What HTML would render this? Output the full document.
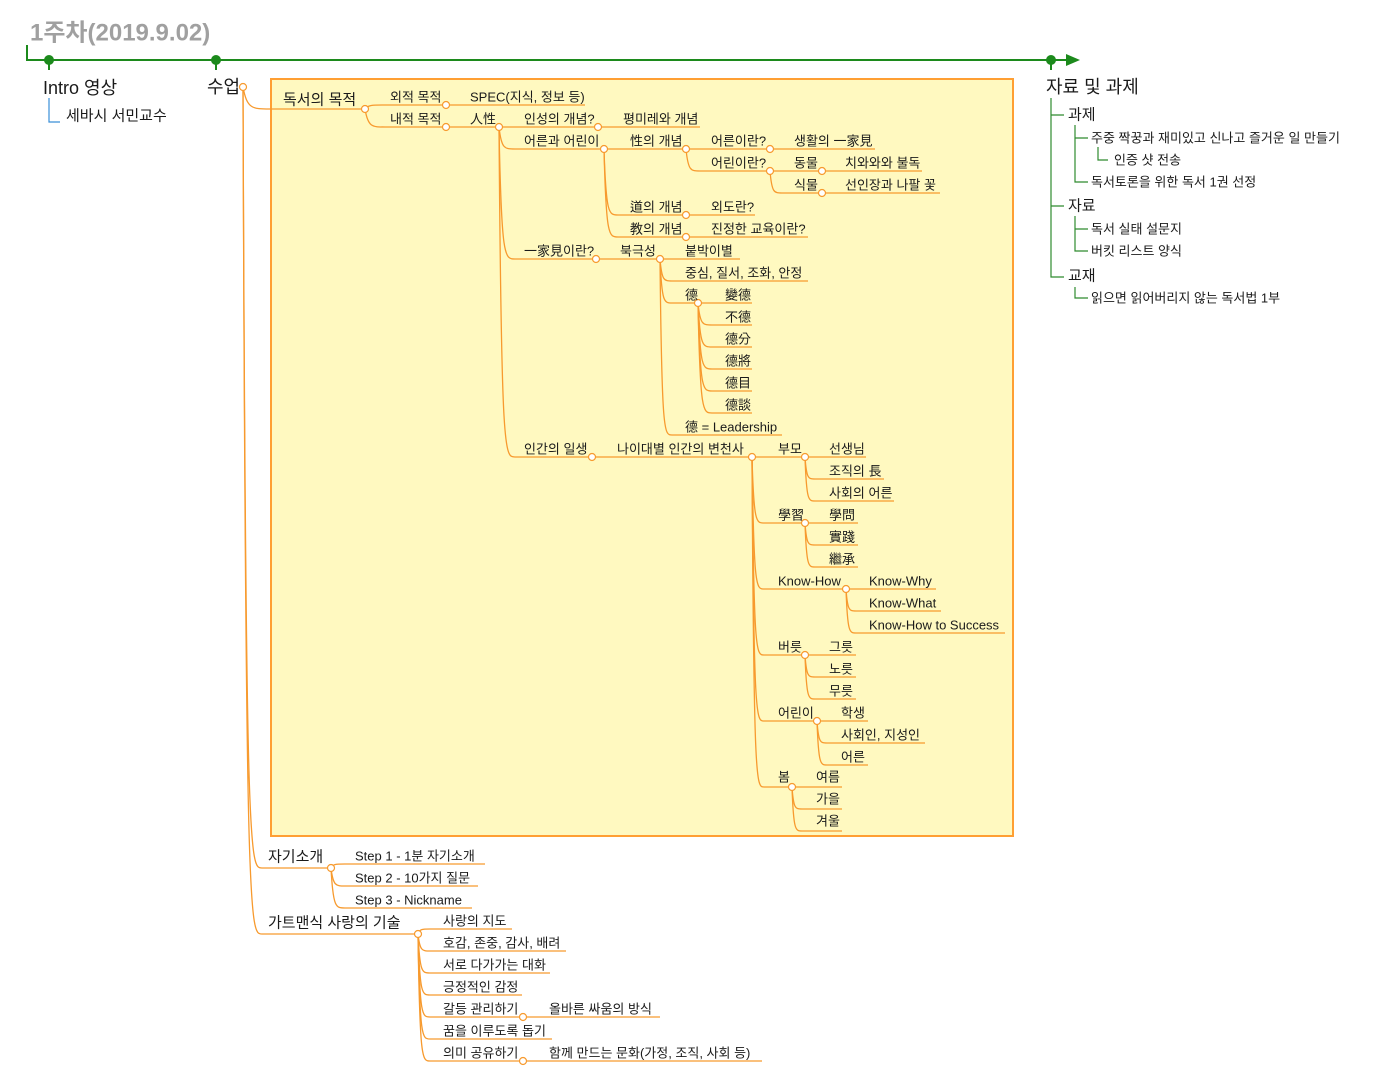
<!DOCTYPE html>
<html><head><meta charset="utf-8"><style>
html,body{margin:0;padding:0;background:#fff;}
svg{display:block;}
text{font-family:"Liberation Sans","Noto Sans CJK KR",sans-serif;font-size:13px;fill:#1a1a1a;dominant-baseline:central;}
.m{font-size:15px;}
.l{font-size:18px;}
.t{font-size:24px;font-weight:bold;fill:#a0a0a0;}
</style></head><body>
<svg id="s" width="1382" height="1076" viewBox="0 0 1382 1076" xmlns="http://www.w3.org/2000/svg">
<rect x="271" y="79" width="742" height="757" fill="#fff9c0" stroke="#ff9f33" stroke-width="2"/>
<g id="lines" fill="none" stroke="#f79a2e" stroke-width="1.3"></g>
<g id="dots" fill="#fff" stroke="#f79a2e" stroke-width="1.2"></g>
<g stroke="#1c8a1c" stroke-width="2" fill="none">
<path d="M27 45 V60 H1068"/>
<path d="M49 60 V70 M216 60 V70 M1051 60 V70"/>
</g>
<path d="M1066 54 L1080 60 L1066 66 Z" fill="#1c8a1c"/>
<circle cx="49" cy="60" r="5" fill="#1c8a1c"/><circle cx="216" cy="60" r="5" fill="#1c8a1c"/><circle cx="1051" cy="60" r="5" fill="#1c8a1c"/>
<path d="M49 98 V122 H60" stroke="#3a8fd8" stroke-width="1.2" fill="none"/>
<g stroke="#2e8b2e" stroke-width="1.2" fill="none">
<path d="M1051 98 V277 H1064 M1051 115 H1064 M1051 206 H1064"/>
<path d="M1075 125 V182 H1088 M1075 138 H1088"/>
<path d="M1098 147 V160 H1108"/>
<path d="M1075 216 V251 H1088 M1075 229 H1088"/>
<path d="M1075 287 V298 H1088"/>
</g>
<text class="t" x="30" y="33">1주차(2019.9.02)</text>
<text class="l" x="43" y="88">Intro 영상</text>
<text class="m" x="66" y="116">세바시 서민교수</text>
<text class="l" x="207" y="87">수업</text>
<text class="l" x="1046" y="87">자료 및 과제</text>
<text class="m" x="1068" y="115">과제</text>
<text x="1091" y="138">주중 짝꿍과 재미있고 신나고 즐거운 일 만들기</text>
<text x="1114" y="160">인증 샷 전송</text>
<text x="1091" y="182">독서토론을 위한 독서 1권 선정</text>
<text class="m" x="1068" y="206">자료</text>
<text x="1091" y="229">독서 실태 설문지</text>
<text x="1091" y="251">버킷 리스트 양식</text>
<text class="m" x="1068" y="276">교재</text>
<text x="1091" y="298">읽으면 읽어버리지 않는 독서법 1부</text>

<text class="m" x="283" y="100">독서의 목적</text>
<text x="390" y="97">외적 목적</text><text x="470" y="97">SPEC(지식, 정보 등)</text>
<text x="390" y="119">내적 목적</text><text x="470" y="119">人性</text><text x="524" y="119">인성의 개념?</text><text x="623" y="119">평미레와 개념</text>
<text x="524" y="141">어른과 어린이</text><text x="630" y="141">性의 개념</text><text x="711" y="141">어른이란?</text><text x="794" y="141">생활의 一家見</text>
<text x="711" y="163">어린이란?</text><text x="794" y="163">동물</text><text x="845" y="163">치와와와 불독</text>
<text x="794" y="185">식물</text><text x="845" y="185">선인장과 나팔 꽃</text>
<text x="630" y="207">道의 개념</text><text x="711" y="207">외도란?</text>
<text x="630" y="229">教의 개념</text><text x="711" y="229">진정한 교육이란?</text>
<text x="524" y="251">一家見이란?</text><text x="620" y="251">북극성</text><text x="685" y="251">붙박이별</text>
<text x="685" y="273">중심, 질서, 조화, 안정</text>
<text x="685" y="295">德</text><text x="725" y="295">變德</text>
<text x="725" y="317">不德</text><text x="725" y="339">德分</text><text x="725" y="361">德將</text><text x="725" y="383">德目</text><text x="725" y="405">德談</text>
<text x="685" y="427">德 = Leadership</text>
<text x="524" y="449">인간의 일생</text><text x="617" y="449">나이대별 인간의 변천사</text><text x="778" y="449">부모</text><text x="829" y="449">선생님</text>
<text x="829" y="471">조직의 長</text><text x="829" y="493">사회의 어른</text>
<text x="778" y="515">學習</text><text x="829" y="515">學問</text><text x="829" y="537">實踐</text><text x="829" y="559">繼承</text>
<text x="778" y="581">Know-How</text><text x="869" y="581">Know-Why</text><text x="869" y="603">Know-What</text><text x="869" y="625">Know-How to Success</text>
<text x="778" y="647">버릇</text><text x="829" y="647">그릇</text><text x="829" y="669">노릇</text><text x="829" y="691">무릇</text>
<text x="778" y="713">어린이</text><text x="841" y="713">학생</text><text x="841" y="735">사회인, 지성인</text><text x="841" y="757">어른</text>
<text x="778" y="777">봄</text><text x="816" y="777">여름</text><text x="816" y="799">가을</text><text x="816" y="821">겨울</text>

<text class="m" x="268" y="857">자기소개</text>
<text x="355" y="856">Step 1 - 1분 자기소개</text>
<text x="355" y="878">Step 2 - 10가지 질문</text>
<text x="355" y="900">Step 3 - Nickname</text>
<text class="m" x="268" y="923">가트맨식 사랑의 기술</text>
<text x="443" y="921">사랑의 지도</text>
<text x="443" y="943">호감, 존중, 감사, 배려</text>
<text x="443" y="965">서로 다가가는 대화</text>
<text x="443" y="987">긍정적인 감정</text>
<text x="443" y="1009">갈등 관리하기</text><text x="549" y="1009">올바른 싸움의 방식</text>
<text x="443" y="1031">꿈을 이루도록 돕기</text>
<text x="443" y="1053">의미 공유하기</text><text x="549" y="1053">함께 만드는 문화(가정, 조직, 사회 등)</text>
</svg>
<script>
(function(){
var NS="http://www.w3.org/2000/svg";
var L=document.getElementById("lines"),D=document.getElementById("dots");
function p(d){var e=document.createElementNS(NS,"path");e.setAttribute("d",d);L.appendChild(e);}
function h(x0,x1,y){p("M"+x0+" "+y+"H"+x1);}
function c(px,py,cx,cy){var dx=cx-px;p("M"+px+" "+py+"C"+(px+dx*0.15)+" "+cy+" "+(px+dx*0.35)+" "+cy+" "+cx+" "+cy);}
function dot(x,y){var e=document.createElementNS(NS,"circle");e.setAttribute("cx",x);e.setAttribute("cy",y);e.setAttribute("r",3.5);D.appendChild(e);}
function R(r){return 105+22*r;}
var H=[[385,446,0],[446,585,0],[385,446,1],[446,499,1],[499,598,1],[598,700,1],
[515,604,2],[604,686,2],[686,770,2],[770,875,2],[700,770,3],[770,822,3],[822,922,3],
[782,822,4],[822,940,4],[618,686,5],[686,755,5],[618,686,6],[686,808,6],
[515,596,7],[596,660,7],[660,740,7],[672,808,8],[672,698,9],[698,752,9],
[712,752,10],[712,752,11],[712,752,12],[712,752,13],[712,752,14],[672,782,15],
[515,592,16],[592,752,16],[752,805,16],[805,866,16],[815,884,17],[815,894,18],
[764,805,19],[805,858,19],[815,858,20],[815,858,21],[764,846,22],[846,936,22],[856,941,23],[856,1005,24],
[764,805,25],[805,856,25],[815,856,26],[815,856,27],[764,817,28],[817,868,28],[827,925,29],[827,868,30],
[764,792,31],[792,842,31],[802,842,32],[802,842,33]];
H.forEach(function(a){h(a[0],a[1],R(a[2]));});
h(270,365,109);
var C=[[365,109,385,R(0)],[365,109,385,R(1)],
[499,R(1),515,R(2)],[499,R(1),515,R(7)],[499,R(1),515,R(16)],
[604,R(2),618,R(5)],[604,R(2),618,R(6)],[686,R(2),700,R(3)],[770,R(3),782,R(4)],
[660,R(7),672,R(8)],[660,R(7),672,R(9)],[660,R(7),672,R(15)]];
[10,11,12,13,14].forEach(function(r){C.push([698,R(9),712,R(r)]);});
[19,22,25,28,31].forEach(function(r){C.push([752,R(16),764,R(r)]);});
C.push([805,R(16),815,R(17)],[805,R(16),815,R(18)],[805,R(19),815,R(20)],[805,R(19),815,R(21)],
[846,R(22),856,R(23)],[846,R(22),856,R(24)],[805,R(25),815,R(26)],[805,R(25),815,R(27)],
[817,R(28),827,R(29)],[817,R(28),827,R(30)],[792,R(31),802,R(32)],[792,R(31),802,R(33)]);
C.forEach(function(a){c(a[0],a[1],a[2],a[3]);});
c(243,87,270,109);c(243,87,262,868);c(243,87,262,934);
h(262,331,868);h(345,485,864);h(345,478,886);h(345,472,908);
c(331,868,345,864);c(331,868,345,886);c(331,868,345,908);
h(262,418,934);
var G=[[929,512],[951,566],[973,550],[995,522],[1017,523],[1039,552],[1061,523]];
G.forEach(function(g){h(430,g[1],g[0]);c(418,934,430,g[0]);});
h(523,660,1017);h(523,762,1061);
var dots=[[243,87],[365,109],[446,R(0)],[446,R(1)],[499,R(1)],[598,R(1)],[604,R(2)],[686,R(2)],[770,R(2)],
[770,R(3)],[822,R(3)],[822,R(4)],[686,R(5)],[686,R(6)],[596,R(7)],[660,R(7)],[698,R(9)],
[592,R(16)],[752,R(16)],[805,R(16)],[805,R(19)],[846,R(22)],[805,R(25)],[817,R(28)],[792,R(31)],
[331,868],[418,934],[523,1017],[523,1061]];
dots.forEach(function(d){dot(d[0],d[1]);});
})();
</script>
</body></html>
